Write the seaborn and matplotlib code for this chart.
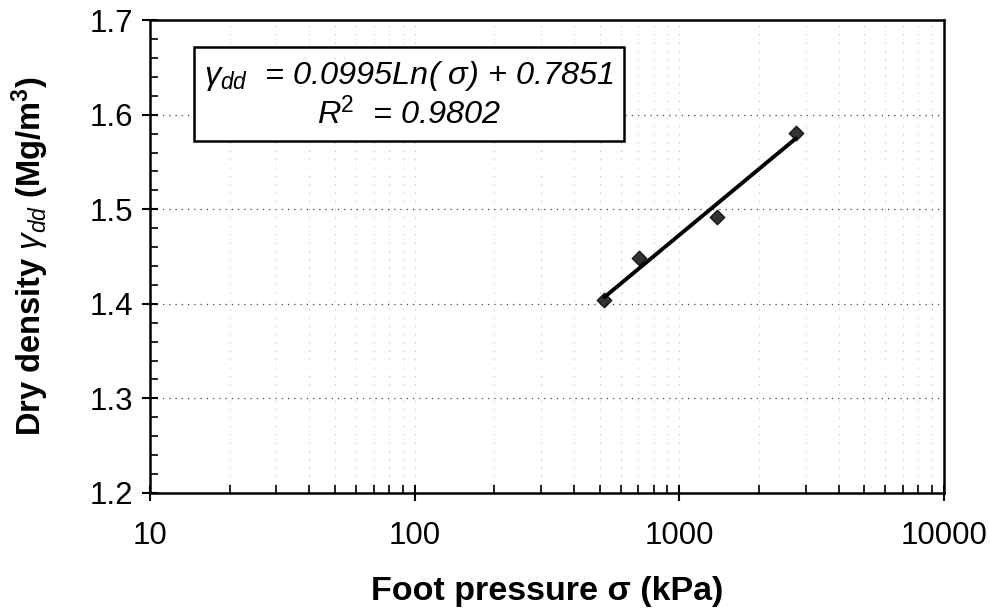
import numpy as np
import pandas as pd
import matplotlib
matplotlib.use("Agg")
import matplotlib.pyplot as plt
from matplotlib.ticker import FixedLocator, LogLocator, MultipleLocator, FuncFormatter, NullFormatter
import seaborn as sns

# data
pressure_kpa = [521, 705, 1387, 2757]
dry_density = [1.404, 1.448, 1.492, 1.581]
x_ticks = [10, 100, 1000, 10000]
y_ticks = [1.2, 1.3, 1.4, 1.5, 1.6, 1.7]
equation_text = r"$\gamma_{dd}$  = 0.0995Ln( $\sigma$) + 0.7851"
r2_text = r"R$^{2}$  = 0.9802"

sns.set_theme(style="white")
plt.rcParams["font.family"] = ["Liberation Sans", "DejaVu Sans"]
plt.rcParams["mathtext.fontset"] = "custom"
plt.rcParams["mathtext.rm"] = "Liberation Sans"
plt.rcParams["mathtext.it"] = "Liberation Sans:italic"
plt.rcParams["mathtext.bf"] = "Liberation Sans:bold"
plt.rcParams["text.color"] = "black"
plt.rcParams["axes.labelcolor"] = "black"

df = pd.DataFrame({"pressure": pressure_kpa, "density": dry_density})

fig = plt.figure(figsize=(9.9, 6.1), dpi=100)
ax = fig.add_axes([0.1515, 0.192, 0.802, 0.775])
ax.set_xscale("log")

sns.regplot(data=df, x="pressure", y="density", logx=True, ci=None, truncate=True,
            ax=ax, color="black", marker="D",
            scatter_kws=dict(s=55, color="black", zorder=4),
            line_kws=dict(color="black", lw=2.8, zorder=3))

ax.set_xlim(10, 10000)
ax.set_ylim(1.2, 1.7)
ax.xaxis.set_major_locator(FixedLocator(x_ticks))
ax.xaxis.set_minor_locator(LogLocator(base=10, subs=np.arange(2, 10)))
ax.xaxis.set_major_formatter(FuncFormatter(lambda v, p: f"{int(round(v))}"))
ax.xaxis.set_minor_formatter(NullFormatter())
ax.yaxis.set_major_locator(FixedLocator(y_ticks))
ax.yaxis.set_minor_locator(MultipleLocator(0.02))
ax.yaxis.set_major_formatter(FuncFormatter(lambda v, p: f"{v:.1f}"))

ax.tick_params(bottom=True, left=True, top=False, right=False, which="both")
ax.tick_params(which="major", direction="inout", length=12, width=1.5, colors="black",
               labelsize=22.5)
ax.tick_params(which="minor", direction="in", length=6, width=1.2, colors="black")
ax.tick_params(axis="x", which="major", pad=14)
ax.tick_params(axis="y", which="major", pad=6)

for s in ax.spines.values():
    s.set_color("black")
    s.set_linewidth(1.8)

ax.grid(True, which="major", axis="y", color="#444444", linestyle=(0, (1, 4)), linewidth=0.9)
ax.grid(True, which="both", axis="x", color="#999999", linestyle=(0, (1, 9)), linewidth=0.6)
ax.set_axisbelow(True)

ax.set_xlabel(r"Foot pressure σ (kPa)", fontsize=24.5, fontweight="bold", labelpad=18)
ax.set_ylabel(r"Dry density $\gamma_{dd}$ (Mg/m$^{\mathbf{3}}$)", fontsize=23.5,
              fontweight="bold", labelpad=28)

ax.text(0.326, 0.842, equation_text + "\n" + r2_text, transform=ax.transAxes,
        fontsize=23.4, fontstyle="italic", ha="center", va="center", linespacing=1.15,
        multialignment="center",
        bbox=dict(boxstyle="square,pad=0.3", facecolor="white", edgecolor="black", linewidth=1.8),
        zorder=5)

fig.savefig("out.png", dpi=100, facecolor="white")
